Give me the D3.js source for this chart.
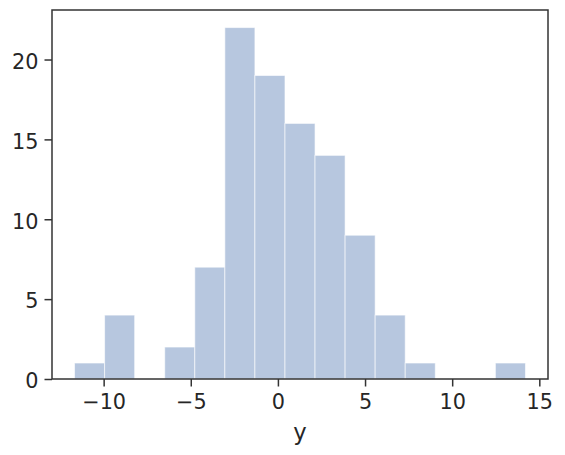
<!DOCTYPE html>
<html><head><meta charset="utf-8">
<script src="https://cdn.jsdelivr.net/npm/d3@7"></script>
<style>body{margin:0;background:#fff}</style>
</head><body>
<svg id="c" width="565" height="455"></svg>
<script>
const binStart = -11.67;
const binWidth = 1.725;
const counts = [1, 4, 0, 2, 7, 22, 19, 16, 14, 9, 4, 1, 0, 0, 1];
const xTicks = [-10, -5, 0, 5, 10, 15];
const yTicks = [0, 5, 10, 15, 20];
const xLabel = "y";

const bins = counts.map((c, i) => ({x0: binStart + i * binWidth, x1: binStart + (i + 1) * binWidth, n: c}));
const L = 52, R = 548, T = 10, B = 379;
const lo = bins[0].x0, hi = bins[bins.length - 1].x1, pad = (hi - lo) * 0.05;
const x = d3.scaleLinear().domain([lo - pad, hi + pad]).range([L, R]);
const y = d3.scaleLinear().domain([0, d3.max(counts) * 1.05]).range([B, T]);
const svg = d3.select("#c");
const font = "DejaVu Sans, sans-serif";

svg.append("g").selectAll("rect").data(bins).join("rect")
  .attr("x", d => x(d.x0)).attr("width", d => x(d.x1) - x(d.x0))
  .attr("y", d => y(d.n)).attr("height", d => y(0) - y(d.n))
  .attr("fill", "rgb(183,199,223)")
  .attr("stroke", "rgba(255,255,255,0.6)").attr("stroke-width", 1);

const gx = svg.append("g").attr("transform", `translate(0,${B})`)
  .call(d3.axisBottom(x).tickValues(xTicks).tickSize(7.5).tickPadding(8).tickFormat(d => d < 0 ? "\u2212" + Math.abs(d) : d));
const gy = svg.append("g").attr("transform", `translate(${L},0)`)
  .call(d3.axisLeft(y).tickValues(yTicks).tickSize(7.5).tickPadding(6));
[gx, gy].forEach(g => {
  g.select(".domain").remove();
  g.selectAll("line").attr("stroke", "#333").attr("stroke-width", 1.5);
  g.selectAll("text").attr("fill", "#262626").style("font-family", font).style("font-size", "20.8px");
});
gy.selectAll("text").attr("dy", "0.42em");
svg.append("rect").attr("x", L).attr("y", T).attr("width", R - L).attr("height", B - T)
  .attr("fill", "none").attr("stroke", "#333").attr("stroke-width", 1.5);
svg.append("text").attr("x", (L + R) / 2).attr("y", 439.5).attr("text-anchor", "middle")
  .attr("fill", "#262626").style("font-family", font).style("font-size", "22.7px").text(xLabel);
</script>
</body></html>
